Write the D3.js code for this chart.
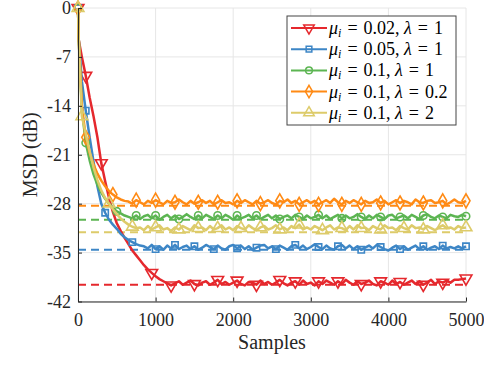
<!DOCTYPE html>
<html>
<head>
<meta charset="utf-8">
<script src="https://cdn.jsdelivr.net/npm/d3@7"></script>
<style>
  body { margin: 0; background: #fff; }
  svg { display: block; }
  text { font-family: "Liberation Serif", "Times New Roman", serif; }
</style>
</head>
<body>
<div id="chart"></div>
<script>
// sample grid: 0, 10, then every 50 samples up to 5000
var samples = [0, 10].concat(d3.range(50, 5001, 50));

// MSD curves (dB)
var msdRed = [0, -4.6, -7.0, -9.7, -12.8, -15.5, -18.5, -22.2, -24.8, -27.2, -29.2, -30.8, -31.9, -32.9, -33.8, -34.7, -35.4, -36.1, -36.8, -37.4, -37.9, -38.4, -38.8, -39.1, -39.4, -39.7,
  -39.4,-39.1,-39.6,-39.3,-39.0,-39.5,-39.7,-39.3,-39.1,-39.6,
  -39.3,-38.9,-39.5,-39.2,-39.6,-39.3,-39.0,-39.5,-39.7,-39.2,
  -39.3,-39.6,-39.0,-39.5,-39.2,-39.6,-39.3,-38.9,-39.4,-39.7,
  -39.3,-39.1,-39.6,-39.0,-39.5,-39.3,-39.7,-39.1,-39.5,-39.0,
  -39.3,-39.6,-39.1,-39.5,-38.9,-39.3,-39.6,-39.1,-39.5,-39.3,
  -39.0,-39.5,-39.7,-39.1,-39.3,-39.6,-39.0,-39.5,-39.2,-39.6,
  -39.3,-39.0,-39.5,-39.1,-39.6,-39.3,-38.9,-39.5,-39.1,-39.3,
  -39.0,-39.3,-38.9,-38.9,-38.8,-38.7];

var msdBlue = [0, -4.6, -10.5, -14.7, -18.5, -22.0, -25.5, -28.0, -29.3, -30.3, -31.0, -31.6, -32.3, -32.8, -33.2, -33.5, -33.8, -34.0, -34.1,
  -34.4,-33.9,-34.5,-34.1,-34.6,-34.0,-34.4,-33.9,-34.5,-34.2,
  -34.0,-34.5,-34.1,-34.6,-34.3,-33.9,-34.2,-34.5,-34.0,-34.4,
  -34.6,-34.1,-33.9,-34.4,-34.0,-34.5,-34.1,-34.6,-34.3,-34.0,
  -33.9,-34.4,-34.1,-34.5,-34.0,-34.3,-34.6,-34.1,-33.9,-34.4,
  -34.0,-34.5,-34.2,-33.8,-34.2,-34.5,-34.0,-34.4,-34.6,-34.1,
  -33.9,-34.4,-34.0,-34.5,-34.1,-34.6,-34.3,-34.0,-34.4,-33.9,
  -34.2,-34.5,-34.7,-34.3,-34.0,-34.5,-34.1,-34.6,-34.3,-34.0,
  -34.5,-34.1,-34.6,-34.3,-34.1,-34.5,-34.0,-34.4,-34.2,-34.4,
  -34.1,-34.4,-34.1];

var msdGreen = [0, -4.6, -14.5, -19.3, -21.8, -23.8, -25.3, -26.4, -27.3, -28.0, -28.6, -29.1, -29.4, -29.7, -29.9,
  -30.1,-29.7,-30.2,-29.8,-29.6,-30.1,-29.7,-30.3,-29.9,-29.6,
  -30.1,-29.7,-30.2,-29.9,-29.5,-29.9,-30.2,-29.7,-30.1,-29.6,
  -29.9,-30.2,-29.7,-30.1,-29.6,-29.9,-30.3,-29.7,-30.1,-29.9,
  -29.6,-30.1,-29.7,-30.2,-29.9,-29.6,-30.1,-29.7,-30.2,-29.9,
  -29.7,-30.1,-29.6,-29.9,-30.2,-29.7,-30.1,-29.9,-29.6,-30.1,
  -29.7,-30.2,-29.9,-29.6,-30.1,-29.7,-30.1,-29.9,-29.5,-29.9,
  -30.2,-29.7,-30.1,-29.6,-29.9,-30.2,-29.7,-29.6,-30.1,-29.9,
  -29.7,-30.1,-29.6,-29.9,-30.2,-29.7,-29.5,-29.9,-30.1,-29.7,
  -29.9,-30.1,-29.6,-29.8,-29.9,-29.6,-29.8];

var msdOrange = [0, -4.6, -14.0, -18.5, -20.7, -22.4, -23.7, -24.7, -25.5, -26.2, -26.7, -27.1, -27.4, -27.6,
  -27.7,-28.0,-27.5,-27.8,-28.1,-27.6,-27.9,-27.5,-27.8,-28.1,
  -27.6,-27.9,-27.8,-27.4,-27.8,-28.1,-27.6,-28.0,-27.8,-27.5,
  -27.9,-27.6,-28.1,-27.8,-27.5,-27.9,-27.8,-28.1,-27.6,-27.9,
  -27.5,-27.8,-28.1,-27.6,-28.0,-27.8,-27.5,-27.9,-28.1,-27.6,
  -27.8,-27.4,-27.9,-27.6,-28.1,-27.8,-27.5,-27.9,-27.6,-28.1,
  -27.8,-27.5,-27.9,-27.3,-27.8,-28.1,-27.6,-27.9,-27.5,-27.8,
  -28.1,-27.6,-27.9,-27.8,-27.4,-27.9,-27.6,-28.1,-27.8,-27.5,
  -27.9,-27.6,-27.8,-28.1,-27.4,-27.8,-27.9,-27.6,-27.5,-27.9,
  -27.8,-27.6,-28.1,-27.8,-27.4,-27.8,-27.9,-27.6];

var msdYellow = [0, -4.6, -15.5, -18.0, -20.5, -22.8, -24.6, -26.1, -27.2, -28.0, -28.8, -29.5, -30.1, -30.6, -31.0, -31.3, -31.5,
  -31.4,-31.8,-31.2,-31.7,-31.4,-31.1,-31.7,-31.5,-31.9,-31.4,
  -31.7,-31.2,-31.5,-31.8,-31.1,-31.5,-31.4,-31.8,-31.2,-31.7,
  -31.5,-31.1,-31.7,-31.4,-31.8,-31.2,-31.5,-31.7,-31.1,-31.5,
  -31.8,-31.4,-31.2,-31.7,-31.5,-31.1,-31.7,-31.4,-31.8,-31.2,
  -31.5,-31.0,-31.7,-31.4,-31.7,-31.2,-31.5,-31.8,-31.4,-31.1,
  -31.7,-31.4,-31.5,-31.8,-31.2,-31.7,-31.1,-31.5,-31.4,-31.8,
  -31.2,-31.5,-31.7,-31.1,-31.5,-31.4,-31.8,-31.2,-31.5,-31.7,
  -31.1,-31.5,-31.4,-31.7,-31.2,-31.5,-31.8,-31.4,-31.1,-31.5,
  -31.4,-31.7,-31.2,-31.5,-31.4];

// theoretical steady-state MSD (dashed lines)
var theory = [-39.6, -34.6, -30.3, -28.3, -32.1];

// samples where a marker is drawn
var marksRed = [0, 100, 300, 950, 1200, 1500, 1800, 2050, 2300, 2600, 2800, 3100, 3350, 3650, 3900, 4150, 4450, 4700, 5000];
var marksBlue = [0, 100, 350, 700, 1000, 1250, 1500, 1750, 2050, 2300, 2550, 2800, 3100, 3350, 3650, 3900, 4150, 4450, 4700, 5000];
var marksGreen = [0, 100, 500, 750, 1000, 1300, 1550, 1800, 2050, 2300, 2600, 2850, 3100, 3400, 3650, 3900, 4150, 4450, 4700, 5000];
var marksOrange = [0, 100, 450, 750, 1000, 1250, 1550, 1800, 2050, 2350, 2600, 2850, 3100, 3400, 3650, 3900, 4150, 4450, 4700, 5000];
var marksYellow = [0, 50, 400, 700, 1000, 1300, 1550, 1800, 2100, 2350, 2600, 2850, 3150, 3400, 3650, 3900, 4200, 4450, 4700, 5000];

// legend labels
var muLabels = ["0.02", "0.05", "0.1", "0.1", "0.1"];
var lambdaLabels = ["1", "1", "1", "0.2", "2"];

var xTicks = [0, 1000, 2000, 3000, 4000, 5000];
var yTicks = [0, -7, -14, -21, -28, -35, -42];

var colors = ["#e5282d", "#3d86c6", "#5cb552", "#ff8a14", "#ddcb6a"];
var symbols = [d3.symbolTriangle, d3.symbolSquare, d3.symbolCircle, d3.symbolDiamond, d3.symbolTriangle];
var symSizes = [60, 40, 44, 56, 60];
var symRotate = [180, 0, 0, 0, 0];

var series = [
  { values: msdRed, marks: marksRed },
  { values: msdBlue, marks: marksBlue },
  { values: msdGreen, marks: marksGreen },
  { values: msdOrange, marks: marksOrange },
  { values: msdYellow, marks: marksYellow }
];

var W = 484, H = 390;
var margin = { top: 8, right: 18, bottom: 88.5, left: 78 },
  width = W - margin.left - margin.right,
  height = H - margin.top - margin.bottom;

var x = d3.scaleLinear().domain([0, 5000]).range([0, width]);
var y = d3.scaleLinear().domain([-42, 0]).range([height, 0]);

var svg = d3
  .select("#chart")
  .append("svg")
  .attr("width", W)
  .attr("height", H);

var chart = svg
  .append("g")
  .attr("transform", "translate(" + margin.left + "," + margin.top + ")");

// grid
chart
  .append("g")
  .selectAll("line")
  .data(xTicks)
  .enter()
  .append("line")
  .attr("x1", d => x(d))
  .attr("x2", d => x(d))
  .attr("y1", 0)
  .attr("y2", height)
  .attr("stroke", "#e6e6e6")
  .attr("stroke-width", 1);

chart
  .append("g")
  .selectAll("line")
  .data(yTicks)
  .enter()
  .append("line")
  .attr("x1", 0)
  .attr("x2", width)
  .attr("y1", d => y(d))
  .attr("y2", d => y(d))
  .attr("stroke", "#e6e6e6")
  .attr("stroke-width", 1);

// dashed theory lines
chart
  .append("g")
  .selectAll("line")
  .data(theory)
  .enter()
  .append("line")
  .attr("x1", x(0))
  .attr("x2", x(5000))
  .attr("y1", d => y(d))
  .attr("y2", d => y(d))
  .attr("stroke", (d, i) => colors[i])
  .attr("stroke-width", 2)
  .attr("stroke-dasharray", "8,5");

var line = d3
  .line()
  .x(d => x(d[0]))
  .y(d => y(d[1]));

series.forEach(function(s, i) {
  var pts = [];
  for (var k = 0; k < Math.min(samples.length, s.values.length); k++) {
    pts.push([samples[k], s.values[k]]);
  }
  chart
    .append("path")
    .datum(pts)
    .attr("d", line)
    .attr("fill", "none")
    .attr("stroke", colors[i])
    .attr("stroke-width", 2.5)
    .attr("stroke-linejoin", "round");

  var lookup = new Map(pts);
  chart
    .append("g")
    .selectAll("path")
    .data(s.marks.filter(m => lookup.has(m)))
    .enter()
    .append("path")
    .attr("d", d3.symbol().type(symbols[i]).size(symSizes[i]))
    .attr("transform", d => "translate(" + x(d) + "," + y(lookup.get(d)) + ") rotate(" + symRotate[i] + ")")
    .attr("fill", "none")
    .attr("stroke", colors[i])
    .attr("stroke-width", 1.6);
});

// axes
var xAxis = chart
  .append("g")
  .attr("transform", "translate(0," + height + ")")
  .call(d3.axisBottom(x).tickValues(xTicks).tickSizeInner(-4).tickSizeOuter(0).tickPadding(12).tickFormat(d => String(d)));

var yAxis = chart
  .append("g")
  .call(d3.axisLeft(y).tickValues(yTicks).tickSizeInner(-4).tickSizeOuter(0).tickPadding(7).tickFormat(d => String(d)));

[xAxis, yAxis].forEach(function(a) {
  a.attr("font-family", "'Liberation Serif', 'Times New Roman', serif").attr("font-size", 18);
  a.select(".domain").attr("stroke", "#262626");
  a.selectAll(".tick line").attr("stroke", "#262626");
  a.selectAll(".tick text").attr("fill", "#262626");
});

// axis labels
svg
  .append("text")
  .attr("x", margin.left + width / 2)
  .attr("y", 349)
  .attr("text-anchor", "middle")
  .style("font-size", "20px")
  .attr("fill", "#262626")
  .text("Samples");

svg
  .append("text")
  .attr("transform", "translate(37," + (margin.top + height / 2) + ") rotate(-90)")
  .attr("text-anchor", "middle")
  .style("font-size", "20px")
  .attr("fill", "#262626")
  .text("MSD (dB)");

// legend
var legend = svg.append("g").attr("transform", "translate(287,16)");
legend
  .append("rect")
  .attr("width", 169)
  .attr("height", 109)
  .attr("fill", "#fff")
  .attr("stroke", "#444")
  .attr("stroke-width", 1);

muLabels.forEach(function(mu, i) {
  var row = legend.append("g").attr("transform", "translate(0," + (12 + i * 21.2) + ")");
  row
    .append("line")
    .attr("x1", 4)
    .attr("x2", 40)
    .attr("stroke", colors[i])
    .attr("stroke-width", 2);
  row
    .append("path")
    .attr("d", d3.symbol().type(symbols[i]).size(symSizes[i] * 0.8))
    .attr("transform", "translate(22,0) rotate(" + symRotate[i] + ")")
    .attr("fill", "none")
    .attr("stroke", colors[i])
    .attr("stroke-width", 1.5);
  var t = row
    .append("text")
    .attr("x", 42)
    .attr("y", 6)
    .style("font-size", "18px")
    .attr("fill", "#000");
  t.append("tspan").style("font-style", "italic").text("μ");
  t.append("tspan").style("font-style", "italic").style("font-size", "12px").attr("dy", 3).text("i");
  t.append("tspan").attr("dy", -3).text("\u2004=\u2004" + mu + ", ");
  t.append("tspan").style("font-style", "italic").text("λ");
  t.append("tspan").text("\u2004=\u2004" + lambdaLabels[i]);
});
</script>
</body>
</html>
